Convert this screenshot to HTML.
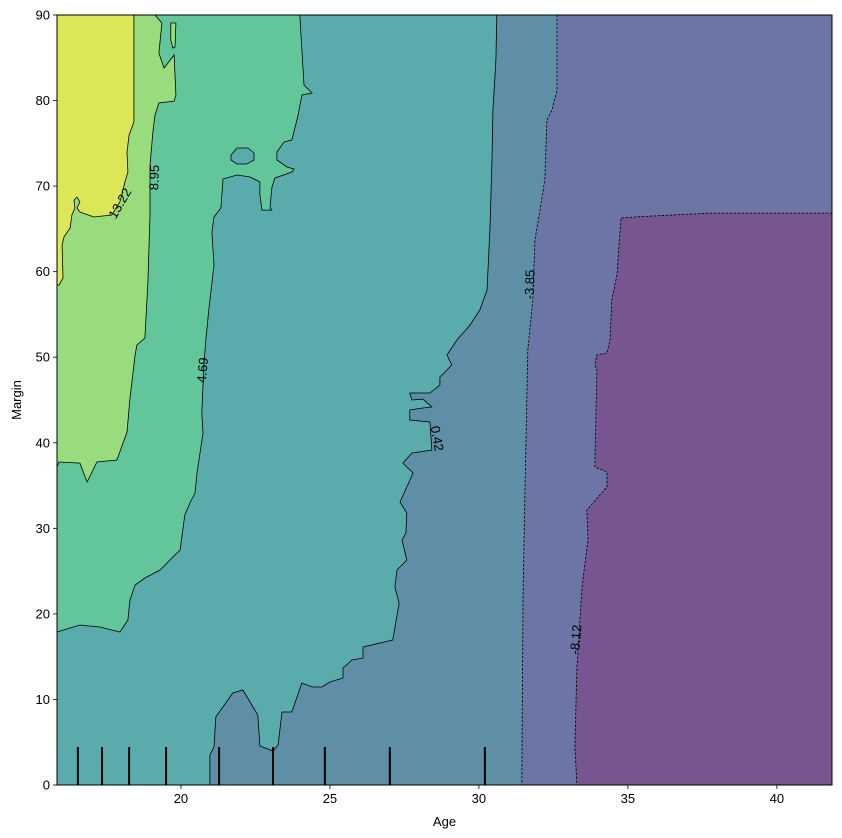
<!DOCTYPE html>
<html><head><meta charset="utf-8"><style>
html,body{margin:0;padding:0;background:#fff;width:842px;height:838px;overflow:hidden}
svg text{font-family:"Liberation Sans","DejaVu Sans",sans-serif}
</style></head><body>
<svg id="chart" width="842" height="838" viewBox="0 0 842 838" xmlns="http://www.w3.org/2000/svg"></svg>
<script>
// ---- data (Age, Margin) ----
const xTicks=[20,25,30,35,40];
const yTicks=[0,10,20,30,40,50,60,70,80,90];
const deciles=[16.54,17.35,18.26,19.50,21.28,23.09,24.83,27.01,30.20];
const levelLabels=["13.22","8.95","4.69","0.42","-3.85","-8.12"];
const bYellow=[[18.42,90],[18.42,77.5],[18.26,75.97],[18.19,73.98],[18.22,71.65],[18.12,70.48],[17.95,68.14],[17.68,66.62],[17.08,66.39],[16.61,66.97],[16.51,67.44],[16.61,68.14],[16.51,68.72],[16.41,68.37],[16.44,67.44],[16.34,66.62],[16.28,65.10],[16.07,64.05],[16.01,63.11],[16.04,59.26],[15.91,58.44],[15.84,58.44]];
const b895=[[19.13,90],[19.36,89.06],[19.26,85.55],[19.43,83.80],[19.77,85.32],[19.83,80.65],[19.77,79.94],[19.26,79.71],[19.13,78.31],[19.06,76.32],[18.96,72.46],[18.96,66.62],[18.89,58.79],[18.79,52.24],[18.52,51.43],[18.46,50.26],[18.29,45.23],[18.19,41.26],[17.85,37.99],[17.18,37.75],[16.85,35.41],[16.61,37.63],[15.91,37.75],[15.84,37.17]];
const sliver895=[[19.66,89.06],[19.83,89.06],[19.80,86.26],[19.73,86.14],[19.66,87.08]];
const b469=[[23.99,90],[24.13,81.81],[24.40,80.88],[24.06,80.65],[23.93,78.31],[23.79,76.32],[23.72,75.39],[23.46,75.15],[23.22,73.98],[23.22,73.05],[23.56,72.23],[23.79,72.00],[23.72,71.65],[23.15,70.94],[23.05,69.78],[22.99,67.44],[23.05,67.20],[22.72,67.20],[22.65,68.96],[22.65,70.48],[22.32,71.06],[21.88,71.30],[21.41,70.83],[21.34,67.44],[21.11,66.39],[21.04,64.63],[21.11,60.78],[20.94,55.75],[20.84,52.24],[20.77,49.09],[20.70,43.48],[20.74,41.14],[20.54,36.47],[20.47,34.13],[20.30,32.96],[20.13,31.56],[19.97,27.47],[19.63,26.30],[19.30,25.13],[18.79,24.19],[18.46,23.38],[18.29,21.62],[18.22,19.28],[17.95,17.88],[17.28,18.47],[16.61,18.70],[15.84,17.88]];
const island469=[[21.68,73.63],[21.88,74.45],[22.25,74.45],[22.45,73.87],[22.45,73.05],[22.21,72.58],[21.88,72.58],[21.68,73.05]];
const b042=[[30.60,90],[30.57,84.74],[30.47,78.89],[30.44,73.05],[30.37,64.87],[30.27,57.85],[30.03,55.52],[29.70,53.76],[29.26,52.01],[28.93,50.26],[29.09,49.09],[28.69,47.69],[28.69,46.75],[28.36,45.82],[27.68,45.82],[27.75,45.00],[28.12,45.11],[28.42,44.18],[28.12,44.06],[27.68,43.83],[27.68,42.66],[28.36,42.43],[28.42,39.15],[27.75,38.80],[27.45,37.63],[27.79,36.47],[27.35,33.08],[27.58,31.79],[27.55,29.45],[27.42,28.64],[27.58,26.30],[27.25,25.13],[27.18,23.14],[27.32,21.27],[27.11,16.95],[26.11,16.13],[26.11,14.84],[25.74,14.61],[25.44,13.67],[25.44,12.51],[25.00,12.04],[24.73,11.45],[24.40,11.45],[24.06,11.92],[23.72,8.53],[23.39,8.53],[23.26,4.68],[23.09,3.97],[22.65,4.56],[22.58,8.18],[22.08,11.10],[21.74,10.75],[21.17,7.95],[21.11,4.44],[20.97,3.51],[20.97,0]];
const bN385=[[32.62,90],[32.62,81.23],[32.45,78.89],[32.28,77.72],[32.21,70.71],[32.05,67.20],[31.88,63.70],[31.81,56.69],[31.64,50.84],[31.54,33.31],[31.48,21.62],[31.44,0]];
const bN812=[[41.85,66.85],[37.8,66.85],[35.5,66.45],[34.77,66.27],[34.63,59.61],[34.46,56.69],[34.40,52.01],[34.30,50.49],[33.96,50.26],[33.89,49.09],[33.96,48.50],[33.89,37.17],[34.30,36.58],[34.30,34.83],[33.62,32.14],[33.66,28.64],[33.46,23.14],[33.29,13.79],[33.22,4.44],[33.29,0]];
// ---- scales ----
const X0=57,X1=832,Y0=785,Y1=15,AMIN=15.84,AMAX=41.85,MMIN=0,MMAX=90;
const sx=a=>X0+(a-AMIN)/(AMAX-AMIN)*(X1-X0);
const sy=m=>Y0-(m-MMIN)/(MMAX-MMIN)*(Y0-Y1);
const NS="http://www.w3.org/2000/svg";
const svg=document.getElementById('chart');
function mk(t,attrs,parent){const e=document.createElementNS(NS,t);for(const k in attrs)e.setAttribute(k,attrs[k]);(parent||svg).appendChild(e);return e;}
const pts=a=>a.map(p=>sx(p[0]).toFixed(1)+','+sy(p[1]).toFixed(1)).join(' ');
// base
let e=mk('rect',{x:X0,y:Y1,width:X1-X0,height:Y0-Y1,fill:'#6d75a6'});


function leftRegion(b,fill,name){
  const poly=[[AMIN,MMAX]].concat(b).concat([[AMIN,MMIN]]);
  const el=mk('polygon',{points:pts(poly),fill:fill});
  
  
}
// purple
e=mk('polygon',{points:pts(bN812.concat([[AMAX,0]])),fill:'#775591'});


leftRegion(bN385,'#5f8fa6','region-minus-3-85-to-0-42');
leftRegion(b042,'#5aabab','region-0-42-to-4-69');
leftRegion(b469,'#62c69a','region-4-69-to-8-95');
e=mk('polygon',{points:pts(island469),fill:'#5aabab',stroke:'#000','stroke-width':0.8});


leftRegion(b895,'#98dc7e','region-8-95-to-13-22');
e=mk('polygon',{points:pts(sliver895),fill:'#98dc7e',stroke:'#000','stroke-width':0.8});


leftRegion(bYellow,'#dbe756','region-above-13-22');
// contour lines
function line(b,dash,name){
  const el=mk('polyline',{points:pts(b),fill:'none',stroke:'#000','stroke-width':0.8});
  if(dash)el.setAttribute('stroke-dasharray','2.5,1.5');
  
  
}
line(bYellow,false,'contour-13-22');
line(b895,false,'contour-8-95');
line(b469,false,'contour-4-69');
line(b042,false,'contour-0-42');
line(bN385,true,'contour-minus-3-85');
line(bN812,true,'contour-minus-8-12');
// contour labels
const labelPos=[[17.95,68.0,-60],[19.1,71.0,-88],[20.72,48.5,-85],[28.6,40.5,80],[31.7,58.5,-88],[33.25,17.0,-85]];
levelLabels.forEach((t,i)=>{
  const p=labelPos[i];
  const el=mk('text',{x:sx(p[0]),y:sy(p[1]),'font-size':13,'text-anchor':'middle','dominant-baseline':'central',transform:`rotate(${p[2]} ${sx(p[0])} ${sy(p[1])})`});
  el.textContent=t;
  
  
});
// rug (deciles)
deciles.forEach(d=>{
  const el=mk('line',{x1:sx(d),x2:sx(d),y1:sy(0),y2:sy(4.44),stroke:'#000','stroke-width':2});
  
  
});
// frame
e=mk('rect',{x:X0,y:Y1,width:X1-X0,height:Y0-Y1,fill:'none',stroke:'#000','stroke-width':1});


// axes ticks
xTicks.forEach(t=>{
  const x=sx(t);
  let el=mk('line',{x1:x,x2:x,y1:Y0,y2:Y0+4,stroke:'#000','stroke-width':0.8});
  
  
  el=mk('text',{x:x,y:Y0+18,'font-size':13,'text-anchor':'middle',fill:'#000'});
  el.textContent=t;
  
  
});
yTicks.forEach(t=>{
  const y=sy(t);
  let el=mk('line',{x1:X0-4,x2:X0,y1:y,y2:y,stroke:'#000','stroke-width':0.8});
  
  
  el=mk('text',{x:X0-7,y:y+4.5,'font-size':13,'text-anchor':'end',fill:'#000'});
  el.textContent=t;
  
  
});
e=mk('text',{x:(X0+X1)/2,y:826,'font-size':13,'text-anchor':'middle'});
e.textContent='Age';


e=mk('text',{x:21,y:400,'font-size':13,'text-anchor':'middle',transform:'rotate(-90 21 400)'});
e.textContent='Margin';


</script>
</body></html>
